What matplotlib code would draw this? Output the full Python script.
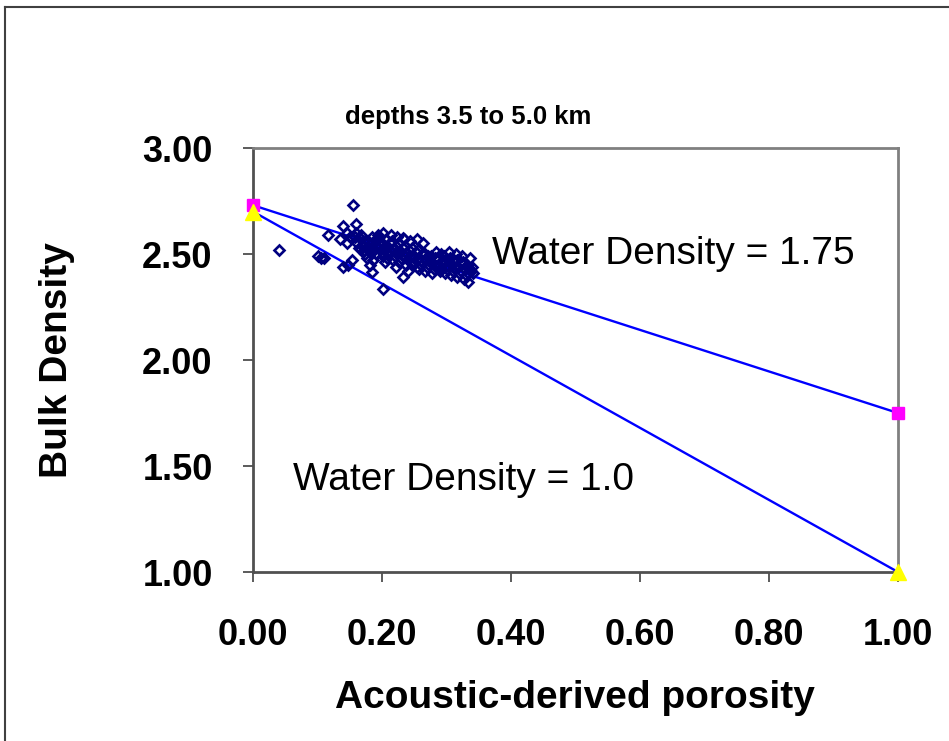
import matplotlib
matplotlib.use("Agg")
import matplotlib.pyplot as plt
from matplotlib.lines import Line2D

plt.rcParams['font.family'] = ['Liberation Sans', 'DejaVu Sans']

# porosity vs bulk density, depths 3.5 to 5.0 km
por = [0.040, 0.100, 0.105, 0.110, 0.116, 0.135, 0.139, 0.139, 0.145, 0.150,
       0.153, 0.155, 0.160, 0.145, 0.148,
       0.158, 0.162, 0.165, 0.160, 0.168, 0.170, 0.172, 0.167, 0.174, 0.171,
       0.178, 0.180, 0.182, 0.176, 0.184, 0.181, 0.184, 0.188, 0.190, 0.192,
       0.186, 0.194, 0.191, 0.196, 0.198, 0.200, 0.202, 0.197, 0.204, 0.201,
       0.203, 0.206, 0.208, 0.210, 0.212, 0.207, 0.214, 0.211, 0.216, 0.218,
       0.220, 0.222, 0.217, 0.224, 0.221, 0.223, 0.226, 0.228, 0.230, 0.232,
       0.227, 0.234, 0.233, 0.236, 0.238, 0.240, 0.242, 0.237, 0.244, 0.241,
       0.243, 0.246, 0.248, 0.250, 0.252, 0.254, 0.249, 0.256, 0.258, 0.260,
       0.262, 0.257, 0.264, 0.261, 0.266, 0.268, 0.270, 0.272, 0.267, 0.274,
       0.276, 0.278, 0.280, 0.282, 0.277, 0.284, 0.281, 0.286, 0.288, 0.290,
       0.292, 0.287, 0.294, 0.296, 0.298, 0.300, 0.302, 0.297, 0.304, 0.301,
       0.306, 0.308, 0.310, 0.312, 0.307, 0.314, 0.311, 0.316, 0.318, 0.320,
       0.322, 0.317, 0.324, 0.326, 0.328, 0.330, 0.332, 0.327, 0.334, 0.336,
       0.338, 0.340, 0.341, 0.335, 0.333, 0.202, 0.184, 0.233, 0.254, 0.233]
rho = [2.52, 2.49, 2.48, 2.48, 2.59, 2.57, 2.63, 2.44, 2.55, 2.58,
       2.47, 2.73, 2.64, 2.60, 2.45,
       2.58, 2.55, 2.53, 2.60, 2.57, 2.54, 2.52, 2.59, 2.50, 2.56,
       2.56, 2.53, 2.51, 2.48, 2.58, 2.45, 2.55, 2.52, 2.50, 2.57,
       2.47, 2.59, 2.54, 2.58, 2.54, 2.51, 2.49, 2.56, 2.46, 2.60,
       2.53, 2.57, 2.53, 2.50, 2.55, 2.48, 2.59, 2.52, 2.56, 2.52,
       2.49, 2.54, 2.47, 2.58, 2.44, 2.51, 2.55, 2.51, 2.48, 2.53,
       2.46, 2.57, 2.50, 2.54, 2.50, 2.47, 2.52, 2.45, 2.56, 2.42,
       2.49, 2.53, 2.49, 2.46, 2.51, 2.44, 2.48, 2.52, 2.48, 2.45,
       2.50, 2.43, 2.55, 2.47, 2.50, 2.47, 2.44, 2.49, 2.42, 2.46,
       2.49, 2.46, 2.43, 2.48, 2.41, 2.51, 2.45, 2.48, 2.45, 2.42,
       2.50, 2.44, 2.47, 2.49, 2.46, 2.43, 2.47, 2.41, 2.51, 2.45,
       2.48, 2.45, 2.42, 2.47, 2.40, 2.50, 2.44, 2.47, 2.44, 2.41,
       2.46, 2.39, 2.49, 2.46, 2.43, 2.40, 2.45, 2.38, 2.44, 2.48,
       2.42, 2.44, 2.41, 2.43, 2.37, 2.335, 2.415, 2.39, 2.57, 2.575]

# two mixing lines: matrix density at zero porosity, water density at 1.0
line_x = [0.0, 1.0]
line_175 = [2.73, 1.75]
line_100 = [2.70, 1.00]

fig = plt.figure(figsize=(9.49, 7.41), dpi=100)
ax = fig.add_axes([253/949, 1 - 572/741, 645/949, 424/741])

ax.plot(line_x, line_175, color='#0000FF', lw=1.7, zorder=2)
ax.plot(line_x, line_100, color='#0000FF', lw=1.7, zorder=2)
ax.plot(por, rho, ls='none', marker='D', ms=5.5, mfc='none', mec='#000080',
        mew=1.9, zorder=3)
ax.plot(line_x, line_175, ls='none', marker='s', ms=9, color='#FF00FF',
        zorder=4, clip_on=False)
ax.plot(line_x, line_100, ls='none', marker='^', ms=12, color='#FFFF00',
        zorder=5, clip_on=False)

ax.set_xlim(0, 1)
ax.set_ylim(1, 3)
ax.set_xticks([0, 0.2, 0.4, 0.6, 0.8, 1.0])
ax.set_yticks([1.0, 1.5, 2.0, 2.5, 3.0])
ax.set_xticklabels(['0.00', '0.20', '0.40', '0.60', '0.80', '1.00'])
ax.set_yticklabels(['1.00', '1.50', '2.00', '2.50', '3.00'])
ax.tick_params(direction='out', length=7, width=1.2, color='#404040',
               labelsize=26)
ax.tick_params(axis='x', pad=26)
ax.tick_params(axis='y', pad=22)
for lab in ax.get_xticklabels() + ax.get_yticklabels():
    lab.set_fontweight('bold')

for s in ['top', 'right']:
    ax.spines[s].set_color('#808080')
    ax.spines[s].set_linewidth(2)
for s in ['left', 'bottom']:
    ax.spines[s].set_color('#505050')
    ax.spines[s].set_linewidth(2)

ax.text(0.371, 2.453, 'Water Density = 1.75', fontsize=28, va='baseline')
ax.text(0.062, 1.387, 'Water Density = 1.0', fontsize=28, va='baseline')

fig.text(468/949, 1 - 117/741, 'depths 3.5 to 5.0 km', fontsize=18.5,
         fontweight='bold', ha='center', va='center')
fig.text(575/949, 1 - 698/741, 'Acoustic-derived porosity', fontsize=28,
         fontweight='bold', ha='center', va='center')
fig.text(57/949, 1 - 360/741, 'Bulk Density', fontsize=28, fontweight='bold',
         ha='center', va='center', rotation=90)

# outer chart border (cut off at right and bottom)
fig.add_artist(Line2D([5/949, 5/949], [0, 1 - 7/741], color='#404040', lw=1.5))
fig.add_artist(Line2D([5/949, 1], [1 - 7/741, 1 - 7/741], color='#404040', lw=1.5))

fig.savefig('out.png', dpi=100)
